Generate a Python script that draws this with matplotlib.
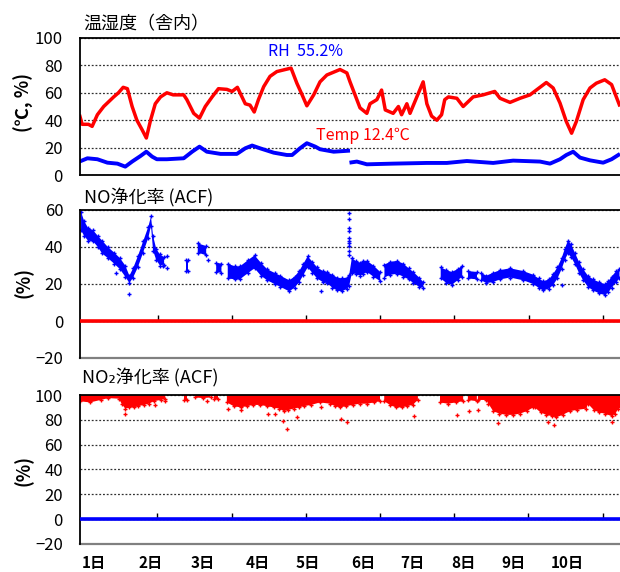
import numpy as np
import matplotlib.pyplot as plt
from matplotlib.transforms import blended_transform_factory

plt.rcParams['font.family'] = ['Noto Sans CJK JP', 'DejaVu Sans']

nan = np.nan
RED = '#FF0000'
BLUE = '#0000FF'

# x in days from the left edge of the plot area
day_labels = ['1日', '2日', '3日', '4日', '5日', '6日', '7日', '8日', '9日', '10日']
day_label_pos = [0.27, 1.35, 2.35, 3.38, 4.33, 5.39, 6.32, 7.29, 8.24, 9.26]
tick_days = [1.48, 2.89, 4.30, 5.71, 7.12, 8.53, 9.94]
x_end = 10.27

# temperature / humidity panel
rh_x = [0, 0.05, 0.17, 0.24, 0.34, 0.46, 0.65, 0.74, 0.83, 0.91,
        1.00, 1.09, 1.19, 1.27, 1.35, 1.44, 1.54, 1.66, 1.78, 1.98,
        2.04, 2.17, 2.28, 2.39, 2.52, 2.64, 2.80, 2.90, 3.00, 3.15,
        3.24, 3.32, 3.40, 3.50, 3.62, 3.75, 3.91, 4.02, 4.13, 4.23,
        4.32, 4.45, 4.57, 4.70, 4.95, 5.08, 5.14, 5.19, 5.27, 5.33,
        5.46, 5.52, 5.65, 5.74, 5.81, 5.96, 6.06, 6.12, 6.22, 6.28,
        6.41, 6.53, 6.60, 6.69, 6.79, 6.88, 6.94, 7.01, 7.17, 7.29,
        7.48, 7.67, 7.89, 7.99, 8.18, 8.37, 8.56, 8.68, 8.87, 9.00,
        9.13, 9.25, 9.35, 9.44, 9.57, 9.70, 9.82, 9.98, 10.11, 10.20,
        10.27]
rh = [44, 37, 37, 35.5, 44, 50, 57, 60, 64, 63,
      50, 40, 33, 27, 40, 52, 57, 60, 58.5, 58.5,
      55, 45, 41.5, 50, 57, 63, 62.5, 61, 64, 52,
      51, 46, 55, 64.5, 72, 75.5, 77, 78, 67, 58.5,
      50.5, 58.5, 68, 73, 77, 74.5, 68, 63, 55, 49,
      45, 52, 55, 62, 47.5, 45, 50, 44, 52, 45,
      57, 68, 52, 43, 40, 44, 55, 57, 56, 50,
      57, 58.5, 61, 56, 53, 56, 58.5, 62, 67.5, 63.5,
      52.5, 39, 30.5, 39, 55, 63.5, 67, 69.5, 66, 57,
      50]

temp_x = [0, 0.15, 0.34, 0.53, 0.72, 0.87, 1.00, 1.16, 1.27, 1.38,
          1.47, 1.66, 1.98, 2.14, 2.28, 2.42, 2.68, 2.99, 3.15, 3.28,
          3.43, 3.69, 3.94, 4.04, 4.19, 4.32, 4.48, 4.57, 4.83, 5.14,
          nan,
          5.13, 5.27, 5.46, 5.96, 6.60, 6.98, 7.36, 7.86, 8.24, 8.75,
          8.94, 9.13, 9.25, 9.38, 9.51, 9.70, 9.95, 10.11, 10.27]
temp = [9.8, 12.2, 11.5, 9, 8.3, 6.1, 9.8, 13.9, 17, 13.4,
        11.5, 11.5, 12.2, 17, 20.7, 17, 15.4, 15.4, 19.5, 21.5,
        19.5, 16.3, 14.6, 14.6, 19.5, 23.2, 20.7, 18.8, 17, 17.8,
        nan,
        9, 9.8, 7.8, 8.3, 8.8, 8.8, 10.2, 8.8, 10.5, 9.8,
        8.3, 11.5, 14.6, 17, 12.7, 10.7, 9, 11.5, 15.4]

# NO removal rate: centre and half-spread of the point cloud
no_x = [0.02, 0.08, 0.15, 0.25, 0.34, 0.42, 0.53, 0.65, 0.76, 0.86,
        0.94, 1.01, 1.10, 1.20, 1.30, 1.35, 1.39, 1.45, 1.52, 1.60,
        nan, 2.02, 2.06, nan, 2.24, 2.40, nan, 2.59, 2.69, nan,
        2.81, 2.95, 3.04, 3.20, 3.32, 3.44, 3.56, 3.70, 3.81, 3.98,
        4.08, 4.17, 4.25, 4.33, 4.42, 4.51, 4.62, 4.70, 4.80, 4.89,
        4.98, 5.08, 5.12, 5.17, 5.24, 5.33, 5.39, 5.46, 5.58, 5.71,
        nan, 5.79, 5.90, 6.03, 6.15, 6.25, 6.34, 6.45, 6.53, nan,
        6.86, 6.97, 7.07, 7.18, 7.27, nan, 7.38, 7.55, nan, 7.63,
        7.73, 7.85, 7.99, 8.18, 8.43, 8.62, 8.72, 8.81, 8.92, 9.00,
        9.08, 9.16, 9.22, 9.28, 9.34, 9.41, 9.49, 9.57, 9.66, 9.76,
        9.87, 9.98, 10.05, 10.11, 10.20, 10.26]
no_c = [54, 50, 47, 46, 43, 40, 37, 34, 31, 27,
        22.5, 26, 32, 40, 48, 54, 42, 36, 33, 32.5,
        nan, 30, 30, nan, 39.5, 38, nan, 29, 28.5, nan,
        27, 26, 26, 29.5, 32, 28, 25, 23, 21.5, 19,
        21, 24, 28, 32, 29, 26, 24, 23.5, 21.5, 20,
        19.5, 20.5, 22, 30, 29, 28, 29, 29.5, 27, 24,
        nan, 27, 28.5, 29, 27.5, 25.5, 23.5, 21, 19.5, nan,
        26, 24, 23, 25, 27, nan, 25, 24.5, nan, 24,
        22.5, 23.5, 25, 26, 24.5, 22.5, 20.5, 19, 20, 22.5,
        26, 31, 36, 40, 38, 34, 29, 25, 21.5, 19.5,
        18, 17, 18.5, 21, 24, 25.5]
no_hw = [5, 4, 3.5, 3, 3, 3.5, 3, 3, 3, 3,
         2, 2.5, 3, 3, 3, 2.5, 4, 3, 3, 2,
         nan, 3, 3, nan, 2.5, 2.5, nan, 2.5, 2.5, nan,
         4, 3.5, 3.5, 3.5, 3.5, 3.5, 3, 3, 3, 3,
         3, 3, 3, 3, 3, 3, 3, 3, 3.5, 3.5,
         3.5, 3, 3, 4, 3.5, 3.5, 3.5, 3, 3, 2.5,
         nan, 3.5, 3.5, 3.5, 3.5, 3, 3, 2.5, 1.5, nan,
         3, 3.5, 3.5, 3, 3, nan, 2, 2, nan, 2,
         2, 2.5, 2.5, 2.5, 2.5, 2.5, 2.5, 2.5, 2.5, 3,
         3, 3, 3, 3.5, 3.5, 3, 3, 3, 3, 3,
         3, 3, 3, 3, 3, 2.5]
no_pts_x = [0.68, 0.94, 1.58, 1.65, 1.65, 2.43, 4.59, 9.16,
            5.12, 5.12, 5.12, 5.12, 5.12, 5.12, 5.12, 5.12, 5.12, 5.12]
no_pts = [26, 14.5, 29.5, 28.6, 35, 33, 16, 19.6,
          58.6, 55, 50.4, 48.6, 45, 43.2, 42.3, 40.4, 37.7, 35.9]
zero_x = [0, x_end]
zero_series = [0, 0]

# NO2 removal rate: lower edge of the cloud hanging from 100 %
no2_x = [0.00, 0.20, 0.40, 0.55, 0.75, 0.80, 0.87, 0.95, 1.03, 1.12,
         1.22, 1.32, 1.41, 1.54, 1.63, nan, 1.98, 2.04, nan, 2.20,
         2.35, 2.49, nan, 2.55, 2.64, nan, 2.80, 2.93, 3.06, 3.18,
         3.30, 3.43, 3.56, 3.69, 3.80, 3.88, 3.97, 4.07, 4.17, 4.26,
         4.40, 4.57, 4.76, 4.86, 4.95, 5.07, 5.19, 5.33, 5.46, 5.60,
         5.71, nan, 5.79, 5.90, 6.01, 6.12, 6.22, 6.33, 6.43, nan,
         6.85, 7.00, 7.15, 7.29, nan, 7.38, 7.55, nan, 7.57, 7.73,
         7.77, 7.86, 7.98, 8.11, 8.24, 8.37, 8.50, 8.62, 8.65, 8.76,
         8.87, 8.97, 9.06, 9.18, 9.32, 9.45, 9.63, 9.66, 9.77, 9.87,
         9.98, 10.11, 10.18, 10.24, 10.27]
no2_low = [95, 94, 96, 97.5, 97, 93, 89, 90, 90, 91,
           92, 93, 95, 96, 97, nan, 96, 96, nan, 98,
           97.5, 98, nan, 97, 97, nan, 94, 91, 90, 91,
           92, 92, 91, 90, 89, 87, 88, 89, 90, 91,
           92, 94, 93, 91, 90, 91, 92, 93, 93, 94,
           95, nan, 95, 92, 90, 90, 91, 92, 96, nan,
           94, 93, 94, 95, nan, 96, 95, nan, 96, 96,
           93, 87, 85, 84, 84, 85, 87, 90, 90, 86,
           84, 83, 82, 84, 87, 88, 89, 93, 88, 86,
           85, 83, 85, 89, 90]
no2_pts_x = [0.87, 1.44, 1.63, 2.42, 2.83, 3.06, 3.59, 3.72, 3.87, 3.94,
             4.13, 4.59, 4.96, 5.09, 6.36, 7.17, 7.41, 7.57, 7.96, 8.90,
             9.01, 10.11]
no2_pts = [85, 92, 95.4, 95.4, 89, 88, 85, 85, 79, 73,
           82, 90.6, 80.6, 78.5, 83, 84, 86.8, 88, 77.4, 78.5,
           76, 78.5]

fig = plt.figure(figsize=(6.2, 5.72), dpi=100)


def panel(left, top, right, bottom):
    return fig.add_axes([left / 620, 1 - bottom / 572, (right - left) / 620, (bottom - top) / 572])


ax1 = panel(79.5, 38, 620, 175)
ax2 = panel(80, 210, 620, 358)
ax3 = panel(79.5, 395, 620, 544)

for ax in (ax1, ax2, ax3):
    ax.set_xlim(0, x_end)
    ax.spines['right'].set_visible(False)
    ax.spines['left'].set_linewidth(1.3)
    ax.spines['top'].set_linewidth(1.3)
    ax.tick_params(axis='y', length=0, pad=12, labelsize=12)
    ax.yaxis.grid(True, linestyle=(0, (1.5, 1.5)), color='#303030', linewidth=0.9)
    ax.set_axisbelow(True)

# top panel
ax1.set_ylim(0, 100)
ax1.set_yticks([0, 20, 40, 60, 80, 100])
ax1.set_xticks([])
ax1.spines['bottom'].set_linewidth(1.3)
ax1.plot(rh_x, rh, color=RED, lw=2.5, solid_capstyle='butt')
ax1.plot(temp_x, temp, color=BLUE, lw=2.8, solid_capstyle='butt')
fig.text(268 / 620, 1 - 51 / 572, 'RH  55.2%', color=BLUE, fontsize=11.5, va='center')
fig.text(316 / 620, 1 - 135 / 572, 'Temp 12.4℃', color=RED, fontsize=11.5, va='center')

# NO panel
ax2.set_ylim(-20, 60)
ax2.set_yticks([-20, 0, 20, 40, 60])
ax2.fill_between(no_x, np.array(no_c) - np.array(no_hw), np.array(no_c) + np.array(no_hw),
                 color=BLUE, lw=0)
ax2.plot(no_x, np.array(no_c) + np.array(no_hw), '+', color=BLUE, ms=3.5, mew=1)
ax2.plot(no_x, np.array(no_c) - np.array(no_hw), '+', color=BLUE, ms=3.5, mew=1)
ax2.plot(no_pts_x, no_pts, '+', color=BLUE, ms=3.5, mew=1)
ax2.plot(zero_x, zero_series, color=RED, lw=2.6, zorder=3)

# NO2 panel
ax3.set_ylim(-20, 100)
ax3.set_yticks([-20, 0, 20, 40, 60, 80, 100])
ax3.fill_between(no2_x, no2_low, 100, color=RED, lw=0)
ax3.plot(no2_x, no2_low, '+', color=RED, ms=3.5, mew=1)
ax3.plot(no2_pts_x, no2_pts, '+', color=RED, ms=3.5, mew=1)
ax3.plot(zero_x, zero_series, color=BLUE, lw=2.6, zorder=3)

for ax in (ax2, ax3):
    ax.spines['bottom'].set_position(('data', 0))
    ax.spines['bottom'].set_linewidth(1.0)
    ax.set_xticks(tick_days)
    ax.tick_params(axis='x', direction='in', length=4, width=1, labelbottom=False)
    ax.axhline(ax.get_ylim()[0], color='#808080', lw=1.6, clip_on=False)

# titles and axis labels
fig.text(83 / 620, 1 - 24 / 572, '温湿度（舎内）', fontsize=13, va='center')
fig.text(84 / 620, 1 - 198 / 572, 'NO浄化率 (ACF)', fontsize=13, va='center')
fig.text(82 / 620, 1 - 378 / 572, 'NO₂浄化率 (ACF)', fontsize=13, va='center')
fig.text(24 / 620, 1 - 102 / 572, '(℃, %)', rotation=90, fontsize=13, fontweight='bold',
         ha='center', va='center')
fig.text(24 / 620, 1 - 283 / 572, '(%)', rotation=90, fontsize=13, fontweight='bold',
         ha='center', va='center')
fig.text(24 / 620, 1 - 470 / 572, '(%)', rotation=90, fontsize=13, fontweight='bold',
         ha='center', va='center')

trans = blended_transform_factory(ax3.transData, fig.transFigure)
for pos, lab in zip(day_label_pos, day_labels):
    ax3.text(pos, 1 - 571 / 572, lab, transform=trans, fontsize=11, fontweight='bold',
             ha='center', va='bottom')

fig.savefig('out.png', dpi=100)
